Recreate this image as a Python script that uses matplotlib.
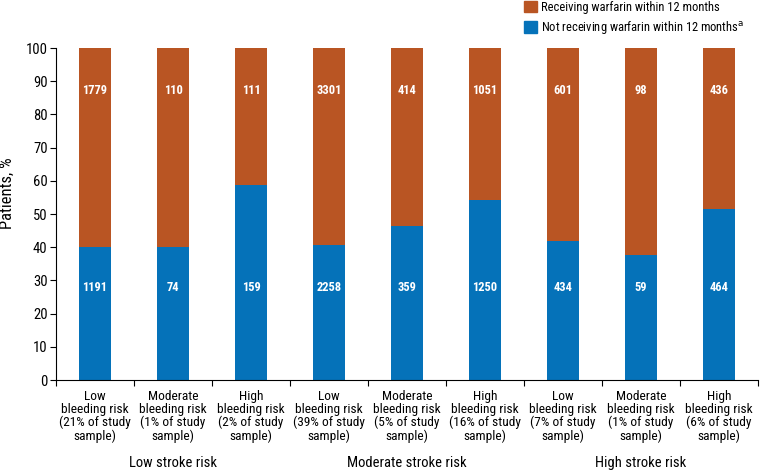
import matplotlib
matplotlib.use("Agg")
import matplotlib.pyplot as plt
import numpy as np
from matplotlib.patches import Patch

plt.rcParams['font.family'] = ['Roboto Condensed', 'DejaVu Sans']

categories = [
    "Low\nbleeding risk\n(21% of study\nsample)",
    "Moderate\nbleeding risk\n(1% of study\nsample)",
    "High\nbleeding risk\n(2% of study\nsample)",
    "Low\nbleeding risk\n(39% of study\nsample)",
    "Moderate\nbleeding risk\n(5% of study\nsample)",
    "High\nbleeding risk\n(16% of study\nsample)",
    "Low\nbleeding risk\n(7% of study\nsample)",
    "Moderate\nbleeding risk\n(1% of study\nsample)",
    "High\nbleeding risk\n(6% of study\nsample)",
]
groups = ["Low stroke risk", "Moderate stroke risk", "High stroke risk"]
receiving = [1779, 110, 111, 3301, 414, 1051, 601, 98, 436]
not_receiving = [1191, 74, 159, 2258, 359, 1250, 434, 59, 464]

orange = "#B95523"
blue = "#0572B9"

rec = np.array(receiving, dtype=float)
notrec = np.array(not_receiving, dtype=float)
pct_not = 100 * notrec / (rec + notrec)
pct_rec = 100 - pct_not

fig = plt.figure(figsize=(7.64, 4.71), dpi=100)
ax = fig.add_axes([0.0733, 0.193, 0.919, 0.705])

x = np.arange(len(categories))
ax.bar(x, pct_not, width=0.415, color=blue)
ax.bar(x, pct_rec, width=0.415, bottom=pct_not, color=orange)

for i in range(len(x)):
    ax.text(x[i], 87.2, str(receiving[i]), ha="center", va="center",
            color="white", fontsize=9, fontweight="bold")
    ax.text(x[i], 28, str(not_receiving[i]), ha="center", va="center",
            color="white", fontsize=9, fontweight="bold")

ax.set_xlim(-0.5, len(categories) - 0.5)
ax.set_ylim(0, 100)
ax.set_yticks(np.arange(0, 101, 10))
ax.tick_params(axis="y", labelsize=10.5, length=4, direction="out", pad=2)
ax.set_xticks(np.arange(-0.5, len(categories), 1))
ax.set_xticklabels([])
ax.tick_params(axis="x", length=4, direction="out")
for i, lab in enumerate(categories):
    ax.text(x[i], -3.1, lab, ha="center", va="top", fontsize=9.6,
            linespacing=0.98)
for g, name in enumerate(groups):
    ax.text(3 * g + 1, -25, name, ha="center", va="center", fontsize=10.5)

ax.spines["top"].set_visible(False)
ax.spines["right"].set_visible(False)
ax.set_ylabel("Patients, %", fontsize=12)
ax.yaxis.set_label_coords(-0.058, 0.563)

handles = [Patch(color=orange, label="Receiving warfarin within 12 months"),
           Patch(color=blue, label="Not receiving warfarin within 12 months$^{\\rm \\mathsf{a}}$")]
fig.legend(handles=handles, loc="upper left", bbox_to_anchor=(0.679, 1.009),
           frameon=False, fontsize=9, handlelength=1.04, handleheight=1.04,
           handletextpad=0.3, labelspacing=0.45, borderaxespad=0)

fig.savefig("out.png", dpi=100)
